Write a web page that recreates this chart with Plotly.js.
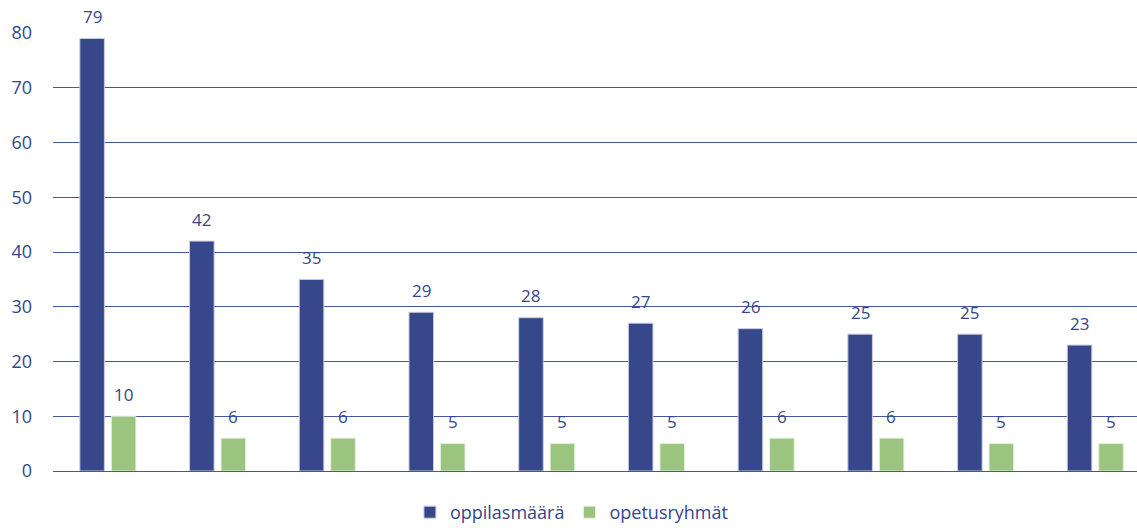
<!DOCTYPE html>
<html>
<head>
<meta charset="utf-8">
<script src="https://cdn.plot.ly/plotly-3.0.1.min.js"></script>
<style>html,body{margin:0;padding:0;background:#fff;}#chart{width:1137px;height:531px;}</style>
</head>
<body>
<div id="chart"></div>
<script>
const categories = [1, 2, 3, 4, 5, 6, 7, 8, 9, 10];
const seriesNames = ["oppilasmäärä", "opetusryhmät"];
const oppilasmaara = [79, 42, 35, 29, 28, 27, 26, 25, 25, 23];
const opetusryhmat = [10, 6, 6, 5, 5, 5, 6, 6, 5, 5];
const yTicks = [0, 10, 20, 30, 40, 50, 60, 70, 80];

const BLUE = "#36478A";
const GREEN = "#9BC47F";
const TEXT = "#34468A";
const FONT = "'Open Sans', sans-serif";

const traces = [
  {type: "bar", name: seriesNames[0], x: categories, y: oppilasmaara,
   marker: {color: BLUE, line: {color: "#c9cde3", width: 1}}, hoverinfo: "none"},
  {type: "bar", name: seriesNames[1], x: categories, y: opetusryhmat,
   marker: {color: GREEN, line: {color: "#e3efd9", width: 1}}, hoverinfo: "none"}
];

const annotations = [];
categories.forEach((c, i) => {
  annotations.push({x: c, y: oppilasmaara[i], xref: "x", yref: "y", text: String(oppilasmaara[i]),
    showarrow: false, yanchor: "middle", yshift: 22, xshift: -15.8, font: {family: FONT, size: 17, color: TEXT}});
  annotations.push({x: c, y: opetusryhmat[i], xref: "x", yref: "y", text: String(opetusryhmat[i]),
    showarrow: false, yanchor: "middle", yshift: 22, xshift: 15.6, font: {family: FONT, size: 17, color: TEXT}});
});

const layout = {
  width: 1137, height: 531,
  margin: {l: 53, r: 0, t: 33, b: 60},
  paper_bgcolor: "#ffffff", plot_bgcolor: "#ffffff",
  barmode: "group", bargap: 0.426, bargroupgap: 0.22,
  font: {family: FONT, size: 17, color: TEXT},
  xaxis: {range: [0.5, 10.38], showticklabels: false, showgrid: false, zeroline: false, ticks: "", fixedrange: true},
  yaxis: {range: [0, 80], tickvals: yTicks, ticktext: yTicks.map(String), showgrid: true, gridcolor: "#4657A0",
          gridwidth: 1, zeroline: true, zerolinecolor: "#4657A0", zerolinewidth: 1, ticks: "",
          ticklabelstandoff: 20, tickfont: {family: FONT, size: 18, color: TEXT}},
  showlegend: true,
  legend: {orientation: "h", xref: "container", x: 0.503, xanchor: "center", yref: "container", y: 0.0, yanchor: "bottom",
           font: {family: FONT, size: 18, color: TEXT}, itemwidth: 30, tracegroupgap: 0},
  annotations: annotations
};

Plotly.newPlot("chart", traces, layout, {displayModeBar: false, staticPlot: true});
</script>
</body>
</html>
